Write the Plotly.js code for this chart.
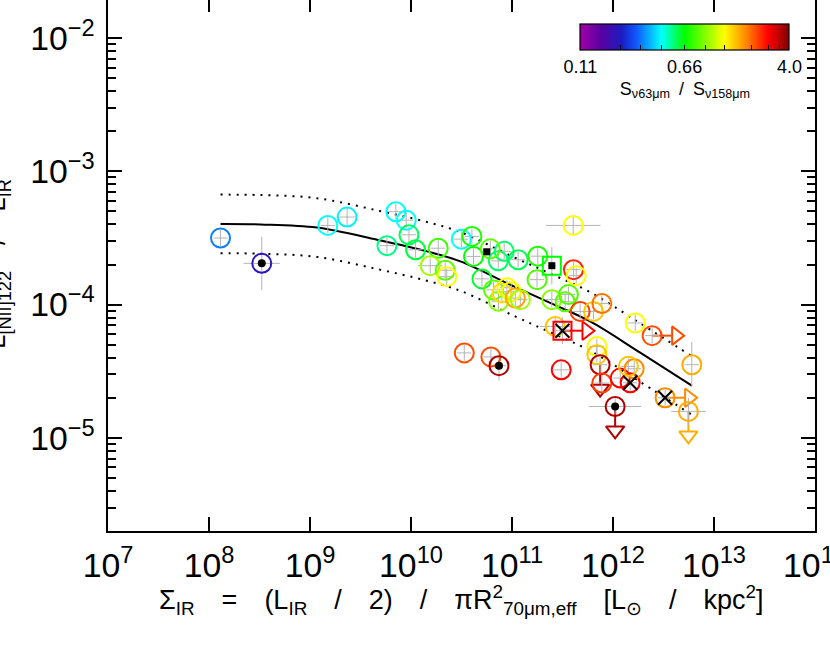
<!DOCTYPE html>
<html>
<head>
<meta charset="utf-8">
<script src="https://cdn.plot.ly/plotly-3.0.1.min.js"></script>
<style>
body{margin:0;background:#fff;overflow:hidden}
#grafico{position:absolute;left:0;top:-2px;width:830px;height:647px}
</style>
</head>
<body>
<div id="grafico"></div>
<script>
// Sigma_IR [Lsun/kpc2], L[NII]122/LIR and the S63/S158 colour of each galaxy
const sigmaIR = [1.30e8, 3.33e8, 1.50e9, 2.33e9, 7.08e9, 8.98e9, 5.78e9, 9.55e9, 1.11e10, 1.86e10,
    1.55e10, 2.18e10, 2.26e10, 3.15e10, 4.01e10, 4.16e10, 5.04e10, 8.37e10, 7.31e10, 1.15e11,
    1.80e11, 2.48e11, 6.09e10, 6.56e10, 7.36e10, 8.91e10, 7.94e10, 9.82e10, 1.08e11, 1.21e11,
    1.77e11, 2.48e11, 3.62e11, 3.36e11, 4.06e11, 4.32e11, 4.04e11, 4.73e11, 6.41e11, 7.76e11,
    2.68e11, 3.16e11, 6.92e11, 6.92e11, 7.46e11, 7.76e11, 1.18e12, 1.48e12, 1.62e12, 1.42e12,
    1.05e12, 3.28e12, 6.03e12, 5.58e12, 1.66e12, 2.44e12, 3.37e10, 6.18e10, 7.43e10, 3.07e11];
const niiRatio = [3.16e-4, 2.04e-4, 3.93e-4, 4.54e-4, 4.98e-4, 4.30e-4, 2.77e-4, 3.34e-4, 2.58e-4, 2.65e-4,
    1.96e-4, 1.81e-4, 1.62e-4, 3.10e-4, 3.25e-4, 2.30e-4, 1.56e-4, 2.51e-4, 2.13e-4, 2.17e-4,
    2.31e-4, 1.96e-4, 2.62e-4, 1.29e-4, 1.06e-4, 1.34e-4, 1.22e-4, 1.25e-4, 1.12e-4, 1.09e-4,
    1.54e-4, 1.09e-4, 1.19e-4, 1.05e-4, 1.83e-4, 1.65e-4, 3.93e-4, 8.89e-5, 8.89e-5, 1.02e-4,
    6.85e-5, 6.37e-5, 4.85e-5, 4.21e-5, 3.54e-5, 2.58e-5, 2.81e-5, 2.59e-5, 3.30e-5, 3.44e-5,
    1.72e-5, 2.00e-5, 3.54e-5, 1.58e-5, 7.28e-5, 5.85e-5, 4.34e-5, 4.05e-5, 3.48e-5, 3.24e-5];
const s63s158 = [0.32, 0.21, 0.45, 0.43, 0.45, 0.45, 0.54, 0.58, 0.60, 0.77,
    1.02, 0.85, 1.31, 0.45, 0.71, 0.66, 0.62, 0.56, 0.56, 0.58,
    0.71, 0.66, 0.85, 0.85, 0.95, 1.31, 1.46, 1.27, 1.75, 1.02,
    0.82, 0.95, 0.82, 0.85, 2.51, 1.31, 1.31, 2.34, 1.57, 2.02,
    1.57, 2.79, 1.31, 1.57, 3.47, 2.34, 2.79, 2.79, 1.88, 1.57,
    3.47, 1.88, 1.69, 1.69, 1.31, 2.25, 2.25, 2.25, 3.47, 2.79];
// error bars, in dex
const errXdex = [0.07, 0.18, 0.07, 0.10, 0.07, 0.07, 0.07, 0.07, 0.07, 0.07,
    0.12, 0.07, 0.07, 0.07, 0.07, 0.07, 0.07, 0.07, 0.07, 0.07,
    0.07, 0.04, 0.07, 0.07, 0.07, 0.07, 0.07, 0.07, 0.07, 0.07,
    0.07, 0.07, 0.07, 0.07, 0.07, 0.07, 0.27, 0.07, 0.07, 0.07,
    0.15, 0.07, 0.07, 0.07, 0.07, 0.07, 0.07, 0.07, 0.07, 0.07,
    0.26, 0.07, 0.07, 0.17, 0.07, 0.07, 0.07, 0.07, 0.07, 0.08];
const errYdex = [0.06, 0.20, 0.06, 0.07, 0.06, 0.06, 0.06, 0.06, 0.06, 0.06,
    0.06, 0.06, 0.06, 0.06, 0.06, 0.06, 0.06, 0.06, 0.06, 0.06,
    0.06, 0.14, 0.06, 0.06, 0.06, 0.06, 0.06, 0.06, 0.06, 0.06,
    0.06, 0.06, 0.06, 0.06, 0.06, 0.06, 0.08, 0.06, 0.06, 0.06,
    0.06, 0.10, 0.06, 0.06, 0.06, 0.06, 0.06, 0.06, 0.06, 0.06,
    0.06, 0.06, 0.17, 0.10, 0.06, 0.06, 0.06, 0.06, 0.11, 0.06];

// special symbols
const squareIdx = [21, 41];
const dotIdx = [1, 50, 58];
const crossIdx = [41, 47, 51];
const rightIdx = [41, 51, 55];
const downIdx = [44, 50, 53];
const blackSqX = [5.62e10, 2.48e11];
const blackSqY = [2.49e-4, 1.96e-4];

// fit and its scatter
const fitX = [1.30e8, 3.23e8, 1.17e9, 4.61e9, 1.44e10, 3.08e10, 1.04e11, 2.39e11, 5.94e11, 1.86e12, 6.03e12];
const fitY = [4.03e-4, 4.00e-4, 3.79e-4, 3.07e-4, 2.51e-4, 2.11e-4, 1.37e-4, 1.03e-4, 7.48e-5, 4.36e-5, 2.47e-5];
const fitUp = [6.69e-4, 6.64e-4, 6.29e-4, 5.10e-4, 4.17e-4, 3.50e-4, 2.27e-4, 1.71e-4, 1.24e-4, 7.24e-5, 4.10e-5];
const fitLow = [2.43e-4, 2.41e-4, 2.28e-4, 1.85e-4, 1.51e-4, 1.27e-4, 8.25e-5, 6.20e-5, 4.51e-5, 2.63e-5, 1.49e-5];

const cbValues = [0.11, 0.66, 4.0];
const cbLabels = ['0.11', '0.66', '4.0'];
const cbMinor = [0.22, 0.31, 0.44, 0.94, 1.3, 2.1, 2.8, 3.4];

const cmin = Math.log10(0.11), cmax = Math.log10(4.0);
const escala = [[0, '#a000a8'], [0.1, '#5a00a0'], [0.2, '#1c1cc0'], [0.27, '#1058ff'], [0.39, '#00ffff'],
    [0.5, '#00ff00'], [0.69, '#ffff00'], [0.8, '#ff8000'], [0.9, '#ff0000'], [1, '#800000']];

const pxDecX = 101, pxDecY = 133.3; // pixels per decade, for the limit arrows
const sp = '\u2003'; // wide gaps like the original labels

function pick(arr, idx){ return idx.map(i => arr[i]); }
function corMarker(idx, symbol, size){
    return {symbol: symbol, size: size, color: idx.map(i => Math.log10(s63s158[i])),
        colorscale: escala, cmin: cmin, cmax: cmax, line: {width: 2}};
}
function erros(vals, dex, idx, cor){
    return {type: 'data', symmetric: false,
        array: idx.map(i => vals[i] * (Math.pow(10, dex[i]) - 1)),
        arrayminus: idx.map(i => vals[i] * (1 - Math.pow(10, -dex[i]))),
        color: cor, thickness: 1, width: 0};
}

const circleIdx = sigmaIR.map((v, i) => i).filter(i => !squareIdx.includes(i));
const cinza = '#b4b4b4';

var data = [];

data.push({x: fitX, y: fitUp, mode: 'lines', line: {color: '#000', width: 2, dash: '2px,6px', shape: 'spline'}});
data.push({x: fitX, y: fitLow, mode: 'lines', line: {color: '#000', width: 2, dash: '2px,6px', shape: 'spline'}});
data.push({x: fitX, y: fitY, mode: 'lines', line: {color: '#000', width: 2, shape: 'spline'}});

// arrows for limits (shaft + head)
data.push({x: rightIdx.map(i => sigmaIR[i] * Math.pow(10, 10 / pxDecX)), y: pick(niiRatio, rightIdx),
    mode: 'markers', marker: corMarker(rightIdx, 'line-ew-open', 14.3)});
data.push({x: rightIdx.map(i => sigmaIR[i] * Math.pow(10, 24 / pxDecX)), y: pick(niiRatio, rightIdx),
    mode: 'markers', marker: corMarker(rightIdx, 'triangle-right-open', 16)});
data.push({x: pick(sigmaIR, downIdx), y: downIdx.map(i => niiRatio[i] / Math.pow(10, 10 / pxDecY)),
    mode: 'markers', marker: corMarker(downIdx, 'line-ns-open', 14.3)});
data.push({x: pick(sigmaIR, downIdx), y: downIdx.map(i => niiRatio[i] / Math.pow(10, 24 / pxDecY)),
    mode: 'markers', marker: corMarker(downIdx, 'triangle-down-open', 16)});

// circles, with the colour bar
var circ = corMarker(circleIdx, 'circle-open', 19);
circ.showscale = true;
circ.colorbar = {orientation: 'h', x: 0.816, xanchor: 'center', y: 0.951, yanchor: 'top',
    len: 0.295, lenmode: 'fraction', thickness: 26, thicknessmode: 'pixels', xpad: 0, ypad: 0,
    outlinewidth: 1.2, outlinecolor: '#000',
    tickvals: cbValues.concat(cbMinor).map(Math.log10),
    ticktext: cbLabels.concat(cbMinor.map(() => '')),
    ticks: 'inside', ticklen: 5, tickwidth: 1, tickcolor: '#000',
    tickfont: {size: 18, family: 'Liberation Sans'},
    title: {text: 'S<sub>ν63μm</sub>\u2002/\u2002S<sub>ν158μm</sub>', side: 'bottom',
        font: {size: 18, family: 'Liberation Sans'}}};
data.push({x: pick(sigmaIR, circleIdx), y: pick(niiRatio, circleIdx), mode: 'markers', marker: circ,
    error_x: erros(sigmaIR, errXdex, circleIdx, cinza), error_y: erros(niiRatio, errYdex, circleIdx, cinza)});

data.push({x: pick(sigmaIR, squareIdx), y: pick(niiRatio, squareIdx), mode: 'markers',
    marker: corMarker(squareIdx, 'square-open', 18),
    error_x: erros(sigmaIR, errXdex, squareIdx, cinza), error_y: erros(niiRatio, errYdex, squareIdx, cinza)});

// black overlays
data.push({x: pick(sigmaIR, dotIdx), y: pick(niiRatio, dotIdx), mode: 'markers',
    marker: {symbol: 'circle', size: 8, color: '#000'}});
data.push({x: blackSqX, y: blackSqY, mode: 'markers', marker: {symbol: 'square', size: 7, color: '#000'}});
data.push({x: pick(sigmaIR, crossIdx), y: pick(niiRatio, crossIdx), mode: 'markers',
    marker: {symbol: 'x-thin-open', size: 14, color: '#000', line: {width: 2, color: '#000'}}});

var eixo = {type: 'log', dtick: 1, exponentformat: 'power', showgrid: false, zeroline: false,
    showline: true, linecolor: '#000', linewidth: 2, mirror: 'ticks', ticklabeloverflow: 'allow',
    ticks: 'inside', ticklen: 14, tickwidth: 2, tickcolor: '#000', tickfont: {size: 27}};

var layout = {
    width: 830, height: 647,
    margin: {l: 108, r: 15, t: 0, b: 114},
    paper_bgcolor: '#fff', plot_bgcolor: '#fff',
    showlegend: false,
    font: {family: 'Liberation Sans, Arial, sans-serif', color: '#000'},
    xaxis: Object.assign({}, eixo, {range: [7, 14], ticklabelstandoff: 5}),
    yaxis: Object.assign({}, eixo, {range: [Math.log10(2e-6), Math.log10(2e-2)], ticklabelstandoff: 6,
        minor: {ticks: 'inside', ticklen: 8, tickwidth: 2, tickcolor: '#000', showgrid: false}}),
    annotations: [
        {text: 'Σ<sub>IR</sub>' + sp + '=' + sp + '(L<sub>IR</sub>' + sp + '/' + sp + '2)' + sp + '/' + sp +
            'πR<sup>2</sup><sub>70μm,eff</sub>' + sp + '[L<sub>⊙</sub>' + sp + '/' + sp + 'kpc<sup>2</sup>]',
            xref: 'paper', yref: 'paper', x: 0.5, y: -0.13, xanchor: 'center', yanchor: 'middle',
            showarrow: false, font: {size: 27}},
        {text: 'L<sub>[NII]122</sub>' + sp + '/' + sp + 'L<sub>IR</sub>', textangle: -90,
            xref: 'paper', yref: 'paper', x: -0.130, y: 0.5, xanchor: 'right', yanchor: 'middle',
            showarrow: false, font: {size: 26}}
    ]
};

Plotly.newPlot('grafico', data, layout, {staticPlot: true});
</script>
</body>
</html>
